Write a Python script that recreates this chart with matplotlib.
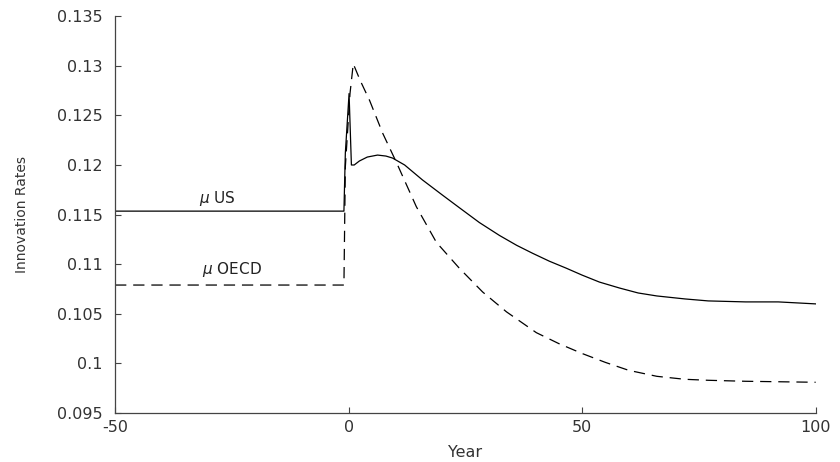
import matplotlib
matplotlib.use("Agg")
import matplotlib.pyplot as plt
from matplotlib.ticker import FuncFormatter

plt.rcParams["axes.unicode_minus"] = False

# Innovation rate paths around the shock (year 0)
us_years = [-50, -1, -0.9, -0.7, 0.1, 0.6, 1.2, 2.3, 4, 6.2, 8, 9.4, 12,
            15.8, 20, 23.7, 28, 32.3, 36, 39.4, 43, 46.6, 50, 53.7, 58, 62,
            66, 72, 77, 85, 92, 100]
us_rate = [0.11535, 0.11535, 0.1173, 0.1212, 0.1272, 0.1200, 0.1200, 0.1204,
           0.1208, 0.1210, 0.1209, 0.1207, 0.1200, 0.1185, 0.1170, 0.1157,
           0.1142, 0.1129, 0.1119, 0.1111, 0.1103, 0.1096, 0.1089, 0.1082,
           0.1076, 0.1071, 0.1068, 0.1065, 0.1063, 0.1062, 0.1062, 0.1060]

oecd_years = [-50, -1, -0.7, 0.3, 1.0, 2.5, 4.5, 7.3, 10.3, 14.5, 18.8, 23.7,
              28.7, 33.8, 40.2, 45, 50, 55, 60, 66, 72, 77, 85, 100]
oecd_rate = [0.1079, 0.1079, 0.1198, 0.1272, 0.1302, 0.1285, 0.1265, 0.1232,
             0.1202, 0.1158, 0.1122, 0.1096, 0.1072, 0.1052, 0.1031, 0.1020,
             0.1010, 0.1001, 0.0993, 0.0987, 0.0984, 0.0983, 0.0982, 0.0981]

x_ticks = [-50, 0, 50, 100]
y_ticks = [0.095, 0.1, 0.105, 0.11, 0.115, 0.12, 0.125, 0.13, 0.135]

fig = plt.figure(figsize=(8.4, 4.62), dpi=100)
ax = fig.add_axes([0.137, 0.106, 0.834, 0.859])

ax.plot(us_years, us_rate, color="black", lw=0.9)
ax.plot(oecd_years, oecd_rate, color="black", lw=0.9, dashes=(9, 5.5))

ax.text(-28, 0.1157, r"$\mu$ US", ha="center", va="bottom", fontsize=11,
        color="#222222")
ax.text(-25, 0.1085, r"$\mu$ OECD", ha="center", va="bottom", fontsize=11,
        color="#222222")

ax.set_xlim(-50, 100)
ax.set_ylim(0.095, 0.135)
ax.set_xticks(x_ticks)
ax.set_yticks(y_ticks)
ax.yaxis.set_major_formatter(FuncFormatter(lambda v, p: f"{v:g}"))

for side in ["top", "right"]:
    ax.spines[side].set_visible(False)
for side in ["left", "bottom"]:
    ax.spines[side].set_color("#444444")
    ax.spines[side].set_linewidth(0.9)

ax.tick_params(direction="in", length=4, width=0.8, colors="#444444",
               labelsize=11.5, labelcolor="#333333")
ax.tick_params(axis="y", pad=9)
ax.tick_params(axis="x", pad=5)

ax.set_xlabel("Year", fontsize=11.5, color="#333333", labelpad=7)
ax.set_ylabel("Innovation Rates", fontsize=10, color="#333333", labelpad=20)

fig.savefig("out.png", dpi=100)
plt.close(fig)
